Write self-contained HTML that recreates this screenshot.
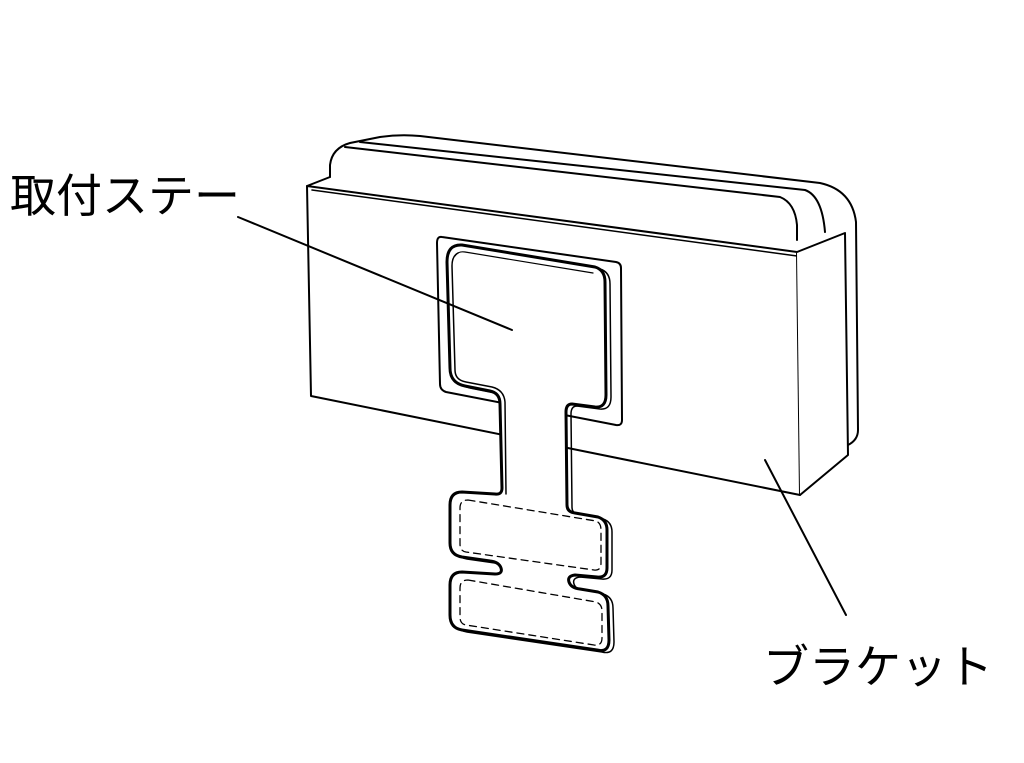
<!DOCTYPE html>
<html><head><meta charset="utf-8"><style>
html,body{margin:0;padding:0;background:#fff;width:1024px;height:763px;overflow:hidden}
svg{position:absolute;left:0;top:0}
text{font-family:"Liberation Sans","Noto Sans CJK JP",sans-serif;fill:#000}
</style></head><body>
<svg width="1024" height="763" viewBox="0 0 1024 763" fill="none" stroke="#000" stroke-linejoin="round" stroke-linecap="round">
<!-- lid behind -->
<path d="M330,177 L330,165 Q332,148 350,143 L380,137 Q400,134 420,136 L820,183 Q852,190 856,222 L858,430 Q858,440 848,445" stroke-width="2"/>
<path d="M345,147 L780,197 Q795,203 797,225 L797,240" stroke-width="2"/>
<path d="M360,142 L805,190 Q822,196 825,232" stroke-width="2"/>
<!-- bracket -->
<path d="M307,186 L330,177" stroke-width="2"/>
<path d="M307,186 L797,252 L800,495 L311,396 Z" stroke-width="2" fill="#fff"/>
<path d="M312,190 L797,256" stroke-width="1.5"/>
<path d="M797,252 L845,233 L848,455 L800,495" stroke-width="2" fill="#fff"/>
<!-- mount plate -->
<path d="M442,237 L616,262 Q621,263 621,268 L622,420 Q622,426 616,425 L446,392 Q440,390 440,384 L437,243 Q437,236 442,237 Z" stroke-width="2" fill="#fff"/>
<!-- stay inner offset (depth) -->
<g transform="translate(5,2)" stroke-width="1.5">
<path d="M462,245 L595,267 Q605,270 605,282 L606,395 Q606,408 595,407 L572,404 Q566,404 566,412 L567,505 Q567,512 575,513 L598,517 Q607,520 607,530 L607,568 Q607,578 597,577 L575,575 Q567,576 569,582 Q571,588 580,589 L598,592 Q608,595 608,606 L609,640 Q609,653 597,650 L462,630 Q450,628 450,615 L450,585 Q450,572 462,572 L495,574 Q503,574 501,568 Q499,562 490,561 L462,557 Q450,555 450,543 L450,505 Q450,492 462,492 L495,494 Q502,495 502,488 L500,404 Q500,393 490,391 L465,386 Q450,383 450,368 L447,262 Q447,244 462,245 Z"/>
</g>
<!-- stay -->
<path d="M462,245 L595,267 Q605,270 605,282 L606,395 Q606,408 595,407 L572,404 Q566,404 566,412 L567,505 Q567,512 575,513 L598,517 Q607,520 607,530 L607,568 Q607,578 597,577 L575,575 Q567,576 569,582 Q571,588 580,589 L598,592 Q608,595 608,606 L609,640 Q609,653 597,650 L462,630 Q450,628 450,615 L450,585 Q450,572 462,572 L495,574 Q503,574 501,568 Q499,562 490,561 L462,557 Q450,555 450,543 L450,505 Q450,492 462,492 L495,494 Q502,495 502,488 L500,404 Q500,393 490,391 L465,386 Q450,383 450,368 L447,262 Q447,244 462,245 Z" stroke-width="3" fill="#fff"/>
<path d="M458,253 Q452,256 452,266 L455,370 Q455,380 466,382 L492,387 Q504,390 505,402 L506,494" stroke-width="1.5"/>
<path d="M455,256 Q458,251 465,252 L593,273" stroke-width="1.2"/>
<!-- dashed tab lines -->
<g stroke-width="1.3" stroke-dasharray="7,5">
<path d="M468,500 L596,521 Q601,523 601,530 L601,563 Q601,571 594,570 L466,552 Q460,551 460,544 L460,508 Q460,500 468,500 Z"/>
<path d="M468,580 L596,602 Q602,604 602,611 L602,638 Q602,646 594,645 L466,625 Q460,624 460,617 L460,588 Q460,580 468,580 Z"/>
</g>
<!-- leaders -->
<line x1="238" y1="217" x2="512" y2="330" stroke-width="2"/>
<line x1="765" y1="460" x2="846" y2="615" stroke-width="2"/>
</svg>
<svg width="1024" height="763" style="position:absolute;left:0;top:0">
<text x="10" y="212" font-size="46">取付ステー</text>
<text x="763" y="683" font-size="46">ブラケット</text>
</svg>
</body></html>
